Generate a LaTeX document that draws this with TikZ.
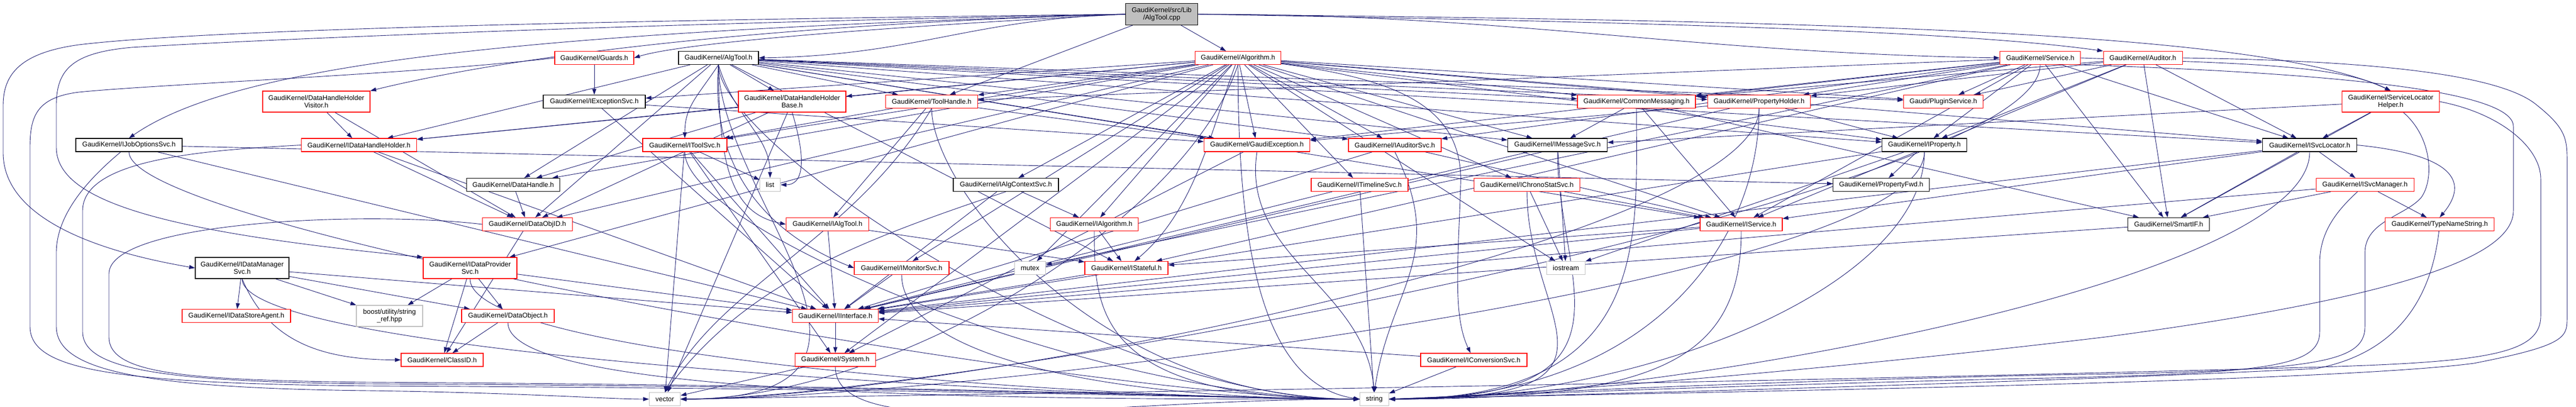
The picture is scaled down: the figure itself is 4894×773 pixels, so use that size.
\documentclass[tikz,border=0pt]{standalone}
\usepackage{fontspec}
\setmainfont{Liberation Sans}
\usetikzlibrary{arrows.meta,backgrounds}
\definecolor{edgec}{HTML}{191970}
\definecolor{lgray}{HTML}{BFBFBF}
\definecolor{nred}{HTML}{FF0000}
\begin{document}
\begin{tikzpicture}[x=1bp,y=1bp,
  nd/.style={draw=black,line width=1.1bp,fill=white,rectangle,inner sep=0pt,minimum height=25bp,font=\fontsize{13}{14.5}\selectfont,align=center},
  rd/.style={nd,draw=nred},
  gd/.style={nd,draw=lgray},
  two/.style={minimum height=40bp},
  e/.style={draw=edgec,line width=0.9bp,-{Triangle[length=11bp,width=7.5bp]}},
]
\useasboundingbox (0,0) rectangle (4894,-773);
% row 0
\node[nd,fill=lgray,minimum width=137bp,minimum height=41bp] (root) at (2207,-27) {GaudiKernel/src/Lib\\/AlgTool.cpp};
% row 1
\node[rd,minimum width=150bp] (guards) at (1129,-110) {GaudiKernel/Guards.h};
\node[nd,minimum width=152bp] (algtool) at (1365,-110) {GaudiKernel/AlgTool.h};
\node[rd,minimum width=163bp] (algorithm) at (2352,-110) {GaudiKernel/Algorithm.h};
\node[rd,minimum width=153bp] (service) at (3876,-110) {GaudiKernel/Service.h};
\node[rd,minimum width=150bp] (auditor) at (4071,-110) {GaudiKernel/Auditor.h};
% row 2
\node[rd,two,minimum width=204bp] (dhhvisitor) at (601,-193) {GaudiKernel/DataHandleHolder\\Visitor.h};
\node[nd,minimum width=194bp] (iexception) at (1129,-193) {GaudiKernel/IExceptionSvc.h};
\node[rd,two,minimum width=204bp] (dhhbase) at (1505,-193) {GaudiKernel/DataHandleHolder\\Base.h};
\node[rd,minimum width=175bp] (toolhandle) at (1770,-193) {GaudiKernel/ToolHandle.h};
\node[rd,minimum width=224bp] (commonmsg) at (3109,-193) {GaudiKernel/CommonMessaging.h};
\node[rd,minimum width=195bp] (propholder) at (3342,-193) {GaudiKernel/PropertyHolder.h};
\node[rd,minimum width=151bp] (plugin) at (3692,-193) {Gaudi/PluginService.h};
\node[rd,two,minimum width=185bp] (slhelper) at (4542,-193) {GaudiKernel/ServiceLocator\\Helper.h};
% row 3
\node[nd,minimum width=202bp] (ijobopt) at (245,-275.5) {GaudiKernel/IJobOptionsSvc.h};
\node[rd,minimum width=219bp] (idhh) at (682,-275.5) {GaudiKernel/IDataHandleHolder.h};
\node[rd,minimum width=160bp] (itoolsvc) at (1301,-275.5) {GaudiKernel/IToolSvc.h};
\node[rd,minimum width=201bp] (gexception) at (2388,-275.5) {GaudiKernel/GaudiException.h};
\node[rd,minimum width=176bp] (iauditorsvc) at (2650,-275.5) {GaudiKernel/IAuditorSvc.h};
\node[nd,minimum width=189bp] (imsgsvc) at (2959,-275.5) {GaudiKernel/IMessageSvc.h};
\node[nd,minimum width=161bp] (iproperty) at (3656,-275.5) {GaudiKernel/IProperty.h};
\node[nd,minimum width=179bp] (isvcloc) at (4388,-275.5) {GaudiKernel/ISvcLocator.h};
% row 4
\node[nd,minimum width=177bp] (datahandle) at (975,-351) {GaudiKernel/DataHandle.h};
\node[gd,minimum width=39bp] (list) at (1463,-351) {list};
\node[nd,minimum width=200bp] (ialgctx) at (1911,-351) {GaudiKernel/IAlgContextSvc.h};
\node[rd,minimum width=184bp] (itimeline) at (2583,-351) {GaudiKernel/ITimelineSvc.h};
\node[rd,minimum width=201bp] (ichrono) at (2901,-351) {GaudiKernel/IChronoStatSvc.h};
\node[nd,minimum width=183bp] (propfwd) at (3574,-351) {GaudiKernel/PropertyFwd.h};
\node[rd,minimum width=186bp] (isvcmgr) at (4493,-351) {GaudiKernel/ISvcManager.h};
% row 5
\node[rd,minimum width=171bp] (dataobjid) at (1002,-426) {GaudiKernel/DataObjID.h};
\node[rd,minimum width=157bp] (ialgtool) at (1572,-426) {GaudiKernel/IAlgTool.h};
\node[rd,minimum width=167bp] (ialgorithm) at (2079,-426) {GaudiKernel/IAlgorithm.h};
\node[rd,minimum width=156bp] (iservice) at (3308,-426) {GaudiKernel/IService.h};
\node[nd,minimum width=155bp] (smartif) at (4120,-426) {GaudiKernel/SmartIF.h};
\node[rd,minimum width=207bp] (typename) at (4635,-426) {GaudiKernel/TypeNameString.h};
% row 6
\node[nd,two,minimum width=178bp] (idatamgr) at (460,-509) {GaudiKernel/IDataManager\\Svc.h};
\node[rd,two,minimum width=178bp] (idataprov) at (893,-509) {GaudiKernel/IDataProvider\\Svc.h};
\node[rd,minimum width=180bp] (imonitor) at (1713,-509) {GaudiKernel/IMonitorSvc.h};
\node[gd,minimum width=59bp] (mutex) at (1957,-509) {mutex};
\node[rd,minimum width=158bp] (istateful) at (2140,-509) {GaudiKernel/IStateful.h};
\node[gd,minimum width=73bp] (iostream) at (2975,-509) {iostream};
% row 7
\node[rd,minimum width=206bp] (idsagent) at (449,-600) {GaudiKernel/IDataStoreAgent.h};
\node[gd,two,minimum width=126bp] (boostsr) at (740,-600) {boost/utility/string\\\_ref.hpp};
\node[rd,minimum width=176bp] (dataobject) at (965,-600) {GaudiKernel/DataObject.h};
\node[rd,minimum width=163bp] (iinterface) at (1587,-600) {GaudiKernel/IInterface.h};
% row 8
\node[rd,minimum width=156bp] (classid) at (840,-683.5) {GaudiKernel/ClassID.h};
\node[rd,minimum width=153bp] (system) at (1587,-683.5) {GaudiKernel/System.h};
\node[rd,minimum width=202bp] (iconversion) at (2800,-683.5) {GaudiKernel/IConversionSvc.h};
% row 9
\node[gd,minimum width=59bp] (vector) at (1263,-758) {vector};
\node[gd,minimum width=55bp] (string) at (2611,-758) {string};

\begin{pgfonlayer}{background}
\fill[white] (0,0) rectangle (4894,-773);
% straight edges
\foreach \a/\b in {root/algorithm, root/toolhandle, guards/iexception,
 algtool/dhhbase, algtool/toolhandle, algtool/gexception, algtool/iauditorsvc, algtool/imsgsvc, algtool/commonmsg, algtool/propholder, algtool/plugin, algtool/iproperty, algtool/isvcloc, algtool/iservice, algtool/istateful, algtool/dataobjid, algtool/datahandle, algtool/idhh,
 algorithm/ialgorithm, algorithm/iauditorsvc, algorithm/itimeline, algorithm/imsgsvc, algorithm/ichrono, algorithm/commonmsg, algorithm/propholder, algorithm/plugin, algorithm/iservice, algorithm/iproperty, algorithm/isvcloc, algorithm/ialgctx, algorithm/iexception, algorithm/toolhandle, algorithm/itoolsvc, algorithm/idhh, algorithm/datahandle, algorithm/dataobjid, algorithm/idataprov, algorithm/imonitor, algorithm/mutex, algorithm/system, algorithm/iostream, algorithm/dhhbase, algorithm/gexception,
 service/plugin, service/iproperty, service/isvcloc, service/iservice, service/smartif, service/commonmsg, service/propholder, service/iauditorsvc, service/istateful, service/mutex, service/toolhandle, service/gexception,
 auditor/plugin, auditor/iproperty, auditor/isvcloc, auditor/commonmsg, auditor/propholder, auditor/smartif, auditor/iservice,
 dhhvisitor/idhh, dhhvisitor/dataobjid, iexception/iinterface, iexception/gexception,
 dhhbase/idhh, dhhbase/datahandle, dhhbase/dataobjid, dhhbase/vector,
 toolhandle/itoolsvc, toolhandle/ialgtool, toolhandle/gexception,
 commonmsg/imsgsvc, commonmsg/smartif, commonmsg/iservice,
 propholder/iproperty, propholder/gexception, propholder/iinterface,
 slhelper/isvcloc, slhelper/smartif, slhelper/imsgsvc,
 ijobopt/iinterface, ijobopt/propfwd, idhh/dataobjid, idhh/iinterface,
 itoolsvc/list, itoolsvc/iinterface, itoolsvc/system, itoolsvc/vector,
 gexception/system, iauditorsvc/iservice, iauditorsvc/iinterface,
 imsgsvc/iinterface, imsgsvc/iostream, iproperty/propfwd, iproperty/iinterface, iproperty/iostream,
 isvcloc/isvcmgr, isvcloc/smartif, isvcloc/iinterface, isvcloc/iservice,
 datahandle/dataobjid, ialgctx/ialgorithm, ialgctx/iinterface,
 itimeline/iinterface, itimeline/string, ichrono/iostream, ichrono/iservice,
 isvcmgr/typename, isvcmgr/iinterface, isvcmgr/smartif, dataobjid/classid,
 ialgtool/iinterface, ialgtool/istateful, ialgorithm/istateful,
 iservice/istateful, iservice/iinterface, smartif/iinterface,
 idatamgr/idsagent, idatamgr/boostsr, idatamgr/iinterface, idatamgr/dataobject,
 idataprov/dataobject, idataprov/boostsr, idataprov/classid, idataprov/iinterface,
 imonitor/iinterface, istateful/iinterface, dataobject/classid, iinterface/system,
 system/vector, iconversion/iinterface, iconversion/string}
 \draw[e] (\a) -- (\b);
% curves into string / vector from the right
\foreach \a/\b in {commonmsg/string, propholder/string, iproperty/string, isvcloc/string, imsgsvc/string, iservice/string, ichrono/string,
 service/vector, iproperty/vector, propholder/vector, algtool/vector}
 \draw[e] (\a.south) .. controls +(0,-250) and +(500,0) .. (\b.east);
% curves into string from the left
\foreach \a/\b in {algtool/string, toolhandle/string, imonitor/string, ialgorithm/string, system/string, dataobject/string, idatamgr/string, idataprov/string, itoolsvc/string, ijobopt/string}
 \draw[e] (\a.south) .. controls +(0,-150) and +(-500,0) .. (\b.west);
% individual curves
\draw[e] (root.west) .. controls +(-300,-10) and +(300,5) .. (algtool.east);
\draw[e] (root.west) .. controls (1700,-50) and (1300,-80) .. (guards.east);
\draw[e] (root.east) .. controls +(600,0) and +(-600,10) .. (service.west);
\draw[e] (root.east) .. controls (3000,-40) and (3700,-55) .. (auditor.north west);
\draw[e] (root.west) .. controls (1000,-60) and (450,-120) .. (ijobopt.north);
\draw[e] (root.west) .. controls (1500,-45) and (1000,-100) .. (dhhvisitor.north east);
\draw[e] (root.east) .. controls (3500,-40) and (4300,-60) .. (slhelper.north);
\draw[e] (root.west) .. controls (1200,-38) and (400,-55) .. (150,-85) .. controls (40,-100) and (6,-140) .. (6,-200) -- (6,-290) .. controls (6,-420) and (200,-480) .. (idatamgr.west);
\draw[e] (root.west) .. controls (1200,-45) and (500,-75) .. (250,-90) .. controls (140,-100) and (107,-130) .. (107,-200) -- (107,-280) .. controls (107,-380) and (300,-440) .. (idataprov.north west);
\draw[e] (guards.west) .. controls (800,-140) and (300,-160) .. (150,-175) .. controls (70,-185) and (57,-220) .. (57,-280) -- (57,-620) .. controls (57,-700) and (200,-728) .. (700,-733) .. controls (1800,-738) and (2400,-758) .. (string.west);
\draw[e] (ijobopt) .. controls (180,-330) and (107,-400) .. (107,-480) -- (107,-620) .. controls (107,-700) and (250,-737) .. (700,-742) .. controls (1000,-746) and (1150,-758) .. (vector.west);
\draw[e] (idhh.west) .. controls (400,-285) and (157,-300) .. (157,-400) -- (157,-630) .. controls (157,-700) and (300,-725) .. (700,-729) .. controls (1800,-734) and (2400,-758) .. (string.west);
\draw[e] (dataobjid.west) .. controls (700,-400) and (207,-420) .. (207,-520) -- (207,-640) .. controls (207,-710) and (350,-722) .. (700,-726) .. controls (1800,-732) and (2400,-758) .. (string.west);
\draw[e] (auditor.east) .. controls (4500,-115) and (4750,-140) .. (4820,-200) .. controls (4870,-240) and (4877,-260) .. (4877,-300) -- (4877,-600) .. controls (4877,-640) and (4880,-655) .. (4700,-690) .. controls (4400,-730) and (3000,-748) .. (string.east);
\draw[e] (slhelper.east) .. controls (4750,-215) and (4827,-280) .. (4827,-340) -- (4827,-600) .. controls (4827,-680) and (4700,-690) .. (4300,-700) .. controls (3000,-735) and (1600,-752) .. (vector.east);
\draw[e] (service.south east) .. controls (4300,-135) and (4775,-160) .. (4775,-240) -- (4775,-400) .. controls (4775,-480) and (4600,-560) .. (4000,-640) .. controls (3500,-700) and (2900,-750) .. (string.east);
\draw[e] (isvcmgr) .. controls (4440,-400) and (4407,-440) .. (4407,-500) -- (4407,-630) .. controls (4407,-700) and (4300,-710) .. (3800,-720) .. controls (3200,-735) and (2800,-752) .. (string.east);
\draw[e] (slhelper) .. controls (4620,-260) and (4625,-340) .. (4600,-375) .. controls (4570,-410) and (4493,-420) .. (4493,-480) -- (4493,-620) .. controls (4493,-690) and (4400,-705) .. (3900,-712) .. controls (3200,-728) and (2800,-752) .. (string.east);
\draw[e] (typename) .. controls (4620,-560) and (4560,-670) .. (4400,-700) .. controls (3800,-730) and (2900,-752) .. (string.east);
\draw[e] (algorithm) .. controls (2650,-150) and (2780,-200) .. (2775,-350) .. controls (2770,-500) and (2760,-600) .. (iconversion);
\draw[e] (algorithm) .. controls (2300,-250) and (2270,-400) .. (istateful);
\draw[e] (algorithm.south) .. controls +(0,-300) and +(-200,30) .. (string.west);
\draw[e] (algorithm.south) .. controls +(-100,-300) and +(400,0) .. (vector.east);
\draw[e] (algtool.south) .. controls +(-40,-60) and +(0,60) .. (itoolsvc.north);
\draw[e] (algtool.south) .. controls +(30,-100) and +(0,80) .. (list.north);
\draw[e] (algtool.south) .. controls +(0,-200) and +(-100,20) .. (ialgtool.west);
\draw[e] (algtool.south) .. controls +(-20,-250) and +(-100,40) .. (imonitor.west);
\draw[e] (dhhbase.south) .. controls +(30,-100) and +(40,0) .. (list.east);
\draw[e] (toolhandle.south) .. controls +(-150,-250) and +(100,200) .. (vector.north);
\draw[e] (ialgctx.south) .. controls +(-300,-100) and +(150,200) .. (vector.north);
\draw[e] (idatamgr.south) .. controls +(50,-120) and +(-150,0) .. (classid.west);
\draw[e] (gexception.south) .. controls +(-30,-200) and +(-20,200) .. (string.north);
\draw[e] (iauditorsvc.south) .. controls +(100,-200) and +(30,200) .. (string.north);
\draw[e] (isvcloc.east) .. controls +(200,-20) and +(50,60) .. (typename.north);
\draw[e] (service.east) .. controls +(300,-10) and +(-100,50) .. (slhelper.north);
\end{pgfonlayer}
\end{tikzpicture}
\end{document}
